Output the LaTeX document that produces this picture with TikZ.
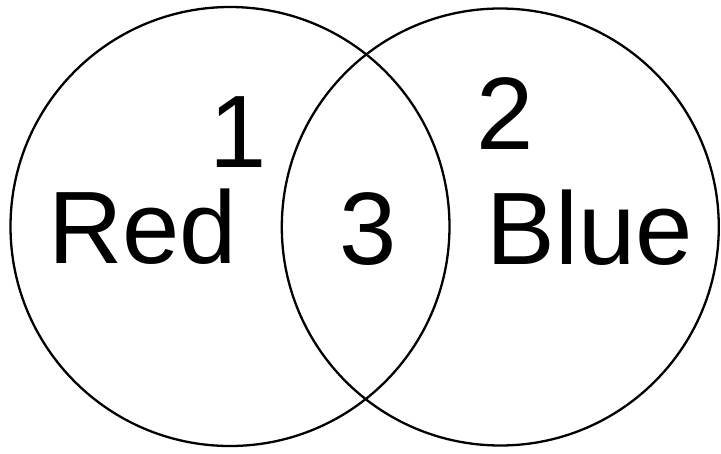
\documentclass[tikz,border=0pt]{standalone}
\usepackage{fontspec}
\setmainfont{Liberation Sans}
\begin{document}
\begin{tikzpicture}[x=1pt,y=-1pt,
  setcircle/.style={draw=black,line width=2.3pt},
  lbl/.style={inner sep=0pt,outer sep=0pt,font=\fontsize{103}{120}\selectfont}]
\useasboundingbox (0,0) rectangle (721,453);
\node[setcircle,circle,minimum size=439pt,inner sep=0pt] (red) at (230,226.5) {};
\node[setcircle,circle,minimum size=437pt,inner sep=0pt] (blue) at (500.3,227) {};
\node[lbl,anchor=base west] (redtxt) at (48,263) {Red};
\node[lbl,anchor=base west] (bluetxt) at (486.5,264) {Blue};
\node[lbl,anchor=base] (one) at (238,167) {1};
\node[lbl,anchor=base] (two) at (505,149) {2};
\node[lbl,anchor=base] (three) at (368,264) {3};
\end{tikzpicture}
\end{document}
